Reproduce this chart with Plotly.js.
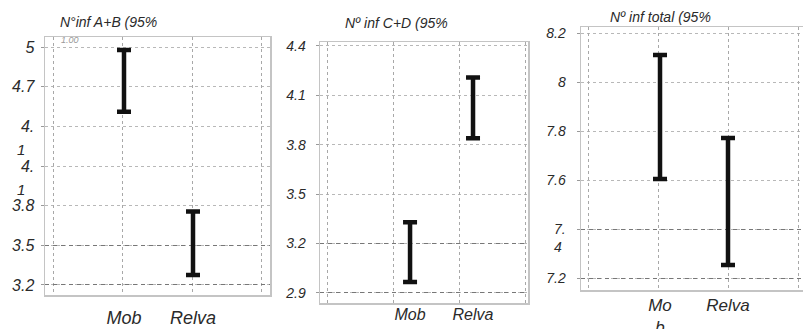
<!DOCTYPE html>
<html>
<head>
<meta charset="utf-8">
<script src="https://cdn.plot.ly/plotly-3.0.1.min.js"></script>
<style>html,body{margin:0;padding:0;background:#fff}#chart{width:803px;height:329px}</style>
</head>
<body>
<div id="chart"></div>
<script>
// ---- data (95% confidence intervals) ----
const categories = ["Mob", "Relva"];
const abLower = [4.51, 3.275];
const abUpper = [4.978, 3.755];
const cdLower = [2.967, 3.84];
const cdUpper = [3.33, 4.209];
const totLower = [7.604, 7.253];
const totUpper = [8.11, 7.771];

const abTicks = [3.2, 3.5, 3.8, 4.1, 4.4, 4.7, 5.0];
const abTickText = ["3.2", "3.5", "3.8", "4.", "4.", "4.7", "5"];
const cdTicks = [2.9, 3.2, 3.5, 3.8, 4.1, 4.4];
const cdTickText = ["2.9", "3.2", "3.5", "3.8", "4.1", "4.4"];
const totTicks = [7.2, 7.4, 7.6, 7.8, 8.0, 8.2];
const totTickText = ["7.2", "7.", "7.6", "7.8", "8", "8.2"];
const abDark = [3.2, 3.5];
const cdDark = [2.9, 3.2];
const totDark = [7.2, 7.4];
const xText1 = ["Mob", "Relva"];
const xText2 = ["Mob", "Relva"];
const xText3 = ["Mo<br>b", "Relva"];
const titles = ["N°inf A+B (95%", "Nº inf C+D (95%", "Nº inf total (95%"];

// ---- helpers ----
const FONT = "Liberation Sans, Arial, sans-serif";
function ciTrace(lo, hi, xa, ya) {
  const mid = lo.map((v, i) => (v + hi[i]) / 2);
  const half = lo.map((v, i) => (hi[i] - v) / 2);
  return {
    type: "scatter", mode: "markers", x: categories, y: mid,
    xaxis: xa, yaxis: ya, marker: {size: 0.1, color: "rgba(0,0,0,0)"},
    error_y: {type: "data", array: half, symmetric: true, color: "#111", thickness: 4.5, width: 7},
    hoverinfo: "skip", showlegend: false
  };
}
function dummy(xa, ya) {
  return {type: "scatter", mode: "markers", x: [], y: [], xaxis: xa, yaxis: ya, showlegend: false, hoverinfo: "skip"};
}
const frame = {showline: true, mirror: true, linecolor: "#c4c4c4", linewidth: 1.5, zeroline: false};

function catAxis(dom, anchor, range, ticktext, size, standoff) {
  return Object.assign({}, frame, {
    domain: dom, anchor: anchor, type: "category", range: range,
    tickmode: "array", tickvals: categories, ticktext: ticktext,
    ticks: "", showgrid: false, ticklabelstandoff: standoff,
    tickfont: {family: FONT, size: size, color: "#2a2a2a", style: "italic"}
  });
}
function gridX(dom, over, anchor, range) {
  return {domain: dom, overlaying: over, anchor: anchor, type: "linear", range: range,
    tick0: 0, dtick: 1, showticklabels: false, ticks: "", zeroline: false, showline: false,
    showgrid: true, gridcolor: "#a8a8a8", gridwidth: 1, griddash: "dot"};
}
function mainY(dom, anchor, range, tv, tt, size, standoff) {
  return Object.assign({}, frame, {
    domain: dom, anchor: anchor, range: range, tickmode: "array", tickvals: tv, ticktext: tt,
    ticks: "outside", ticklen: 3, tickcolor: "#999", ticklabelstandoff: standoff,
    showgrid: true, gridcolor: "#b8b8b8", gridwidth: 1, griddash: "dot",
    tickfont: {family: FONT, size: size, color: "#2a2a2a", style: "italic"}
  });
}
function darkY(dom, over, anchor, range, tv) {
  return {domain: dom, overlaying: over, anchor: anchor, range: range, tickmode: "array", tickvals: tv,
    showticklabels: false, ticks: "", zeroline: false, showline: false,
    showgrid: true, gridcolor: "#777", gridwidth: 1, griddash: "4px,4px"};
}

const d1x = [45 / 803, 270 / 803], d1y = [1 - 295 / 329, 1 - 37 / 329];
const d2x = [320 / 803, 528 / 803], d2y = [1 - 303 / 329, 1 - 42 / 329];
const d3x = [581 / 803, 1], d3y = [1 - 290 / 329, 1 - 27 / 329];
const r1 = [3.124, 5.076], r2 = [2.839, 4.424], r3 = [7.151, 8.2245];

const data = [
  dummy("x2", "y2"), dummy("x4", "y4"), dummy("x6", "y6"),
  ciTrace(abLower, abUpper, "x", "y"),
  ciTrace(cdLower, cdUpper, "x3", "y3"),
  ciTrace(totLower, totUpper, "x5", "y5")
];

function ann(text, x, y, size, extra) {
  return Object.assign({text: text, x: x, y: y, xref: "paper", yref: "paper", showarrow: false,
    xanchor: "center", yanchor: "middle",
    font: {family: FONT, size: size, color: "#2a2a2a", style: "italic"}}, extra || {});
}

const layout = {
  width: 803, height: 329, margin: {l: 0, r: 0, t: 0, b: 0},
  paper_bgcolor: "#fff", plot_bgcolor: "rgba(0,0,0,0)", showlegend: false,
  xaxis: catAxis(d1x, "y", [-1.145, 2.116], xText1, 18, 6),
  xaxis2: gridX(d1x, "x", "y", [-0.115, 3.115]),
  yaxis: mainY(d1y, "x", r1, abTicks, abTickText, 16, 3),
  yaxis2: darkY(d1y, "y", "x", r1, abDark),
  xaxis3: catAxis(d2x, "y3", [-1.43, 1.873], xText2, 16, -4),
  xaxis4: gridX(d2x, "x3", "y3", [-0.106, 3.045]),
  yaxis3: mainY(d2y, "x3", r2, cdTicks, cdTickText, 14, 7),
  yaxis4: darkY(d2y, "y3", "x3", r2, cdDark),
  xaxis5: catAxis(d3x, "y5", [-1.162, 2.103], xText3, 17, -1),
  xaxis6: gridX(d3x, "x5", "y5", [-0.1, 3.058]),
  yaxis5: mainY(d3y, "x5", r3, totTicks, totTickText, 14, 8),
  yaxis6: darkY(d3y, "y5", "x5", r3, totDark),
  annotations: [
    ann(titles[0], 108 / 803, 1 - 22 / 329, 14),
    ann(titles[1], 396 / 803, 1 - 23 / 329, 14),
    ann(titles[2], 660 / 803, 1 - 17 / 329, 14),
    ann("1", 21 / 803, 1 - 149 / 329, 15),
    ann("1", 21 / 803, 1 - 189 / 329, 15),
    ann("4", 558 / 803, 1 - 247 / 329, 14),
    ann("1.00", 70 / 803, 1 - 40 / 329, 9, {font: {family: FONT, size: 9, color: "#999", style: "italic"}})
  ]
};

Plotly.newPlot("chart", data, layout, {staticPlot: true, displayModeBar: false});
</script>
</body>
</html>
